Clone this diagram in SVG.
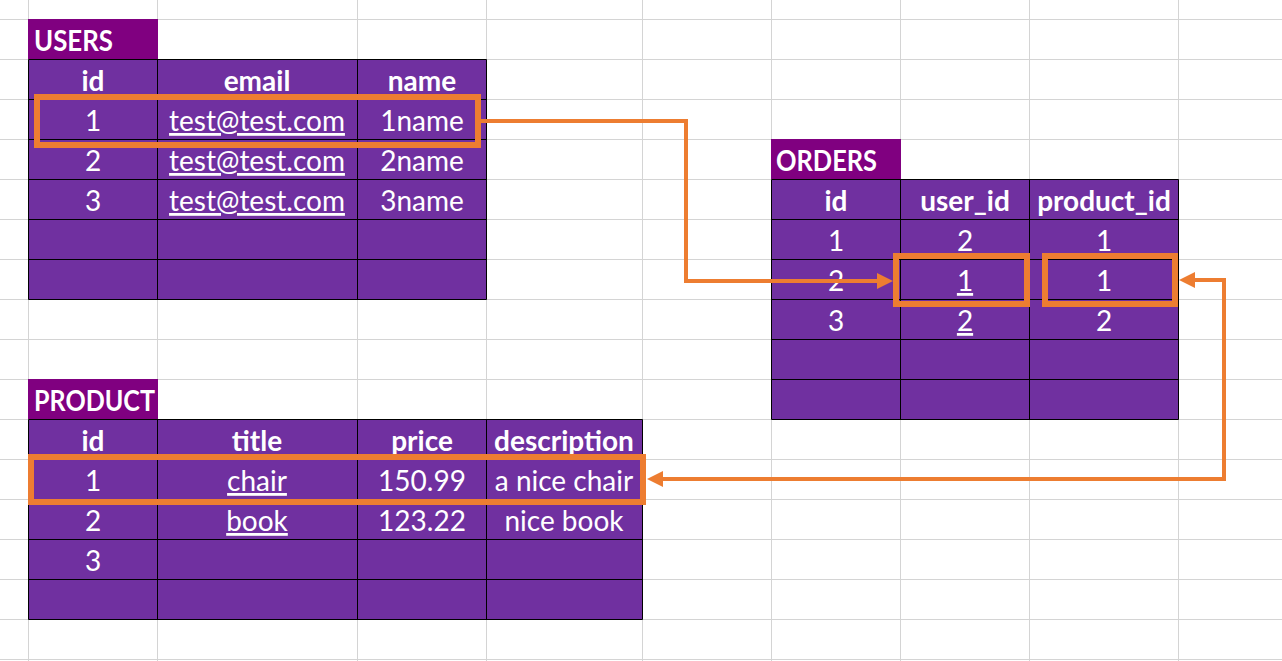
<svg xmlns="http://www.w3.org/2000/svg" width="1282" height="661" viewBox="0 0 1282 661">
<style>
.grid line{stroke:#d4d4d4;stroke-width:1}
.cell{fill:#7030a0}
.title{fill:#800080}
.bd{stroke:#000;stroke-width:1;fill:none}
text{font-family:Lato,"Liberation Sans",sans-serif;font-size:28px;fill:#fff}
.c{text-anchor:middle}
.b{font-weight:bold}
.u{text-decoration:underline}
.hl{fill:none;stroke:#ed7d31;stroke-width:6}
.conn{fill:none;stroke:#ed7d31;stroke-width:4}
</style>
<defs>
<marker id="arr" viewBox="0 0 16 16" refX="12" refY="8" markerWidth="16" markerHeight="16" markerUnits="userSpaceOnUse" orient="auto-start-reverse">
<path d="M0,0 L16,8 L0,16 z" fill="#ed7d31"/>
</marker>
</defs>
<rect width="1282" height="661" fill="#fff"/>
<g class="grid" id="grid">
<line x1="28.5" y1="0" x2="28.5" y2="661"/>
<line x1="157.5" y1="0" x2="157.5" y2="661"/>
<line x1="357.5" y1="0" x2="357.5" y2="661"/>
<line x1="486.5" y1="0" x2="486.5" y2="661"/>
<line x1="642.5" y1="0" x2="642.5" y2="661"/>
<line x1="771.5" y1="0" x2="771.5" y2="661"/>
<line x1="900.5" y1="0" x2="900.5" y2="661"/>
<line x1="1029.5" y1="0" x2="1029.5" y2="661"/>
<line x1="1178.5" y1="0" x2="1178.5" y2="661"/>
<line x1="0" y1="19.5" x2="1282" y2="19.5"/>
<line x1="0" y1="59.5" x2="1282" y2="59.5"/>
<line x1="0" y1="99.5" x2="1282" y2="99.5"/>
<line x1="0" y1="139.5" x2="1282" y2="139.5"/>
<line x1="0" y1="179.5" x2="1282" y2="179.5"/>
<line x1="0" y1="219.5" x2="1282" y2="219.5"/>
<line x1="0" y1="259.5" x2="1282" y2="259.5"/>
<line x1="0" y1="299.5" x2="1282" y2="299.5"/>
<line x1="0" y1="339.5" x2="1282" y2="339.5"/>
<line x1="0" y1="379.5" x2="1282" y2="379.5"/>
<line x1="0" y1="419.5" x2="1282" y2="419.5"/>
<line x1="0" y1="459.5" x2="1282" y2="459.5"/>
<line x1="0" y1="499.5" x2="1282" y2="499.5"/>
<line x1="0" y1="539.5" x2="1282" y2="539.5"/>
<line x1="0" y1="579.5" x2="1282" y2="579.5"/>
<line x1="0" y1="619.5" x2="1282" y2="619.5"/>
<line x1="0" y1="659.5" x2="1282" y2="659.5"/>
</g>

<g id="users">
<rect class="title" x="28" y="19" width="130" height="40"/>
<rect class="cell" x="28.5" y="59.5" width="458" height="240"/>
<path class="bd" d="M28.5,59.5 H486.5 V299.5 H28.5 Z M157.5,59.5 V299.5 M357.5,59.5 V299.5 M28.5,99.5 H486.5 M28.5,139.5 H486.5 M28.5,179.5 H486.5 M28.5,219.5 H486.5 M28.5,259.5 H486.5"/>
<text class="b" x="34" y="51" textLength="79" lengthAdjust="spacingAndGlyphs">USERS</text>
<text class="c b" x="93" y="91">id</text>
<text class="c b" x="257" y="91">email</text>
<text class="c b" x="422" y="91">name</text>
<text class="c" x="93" y="131">1</text>
<text class="c u" x="257" y="131">test@test.com</text>
<text class="c" x="422" y="131">1name</text>
<text class="c" x="93" y="171">2</text>
<text class="c u" x="257" y="171">test@test.com</text>
<text class="c" x="422" y="171">2name</text>
<text class="c" x="93" y="211">3</text>
<text class="c u" x="257" y="211">test@test.com</text>
<text class="c" x="422" y="211">3name</text>
</g>

<g id="orders">
<rect class="title" x="771" y="139" width="130" height="40"/>
<rect class="cell" x="771.5" y="179.5" width="407" height="240"/>
<path class="bd" d="M771.5,179.5 H1178.5 V419.5 H771.5 Z M900.5,179.5 V419.5 M1029.5,179.5 V419.5 M771.5,219.5 H1178.5 M771.5,259.5 H1178.5 M771.5,299.5 H1178.5 M771.5,339.5 H1178.5 M771.5,379.5 H1178.5"/>
<text class="b" x="776" y="171" textLength="101" lengthAdjust="spacingAndGlyphs">ORDERS</text>
<text class="c b" x="836" y="211">id</text>
<text class="c b" x="965" y="211">user_id</text>
<text class="c b" x="1104" y="211">product_id</text>
<text class="c" x="836" y="251">1</text>
<text class="c" x="965" y="251">2</text>
<text class="c" x="1104" y="251">1</text>
<text class="c" x="836" y="291">2</text>
<text class="c u" x="965" y="291">1</text>
<text class="c" x="1104" y="291">1</text>
<text class="c" x="836" y="331">3</text>
<text class="c u" x="965" y="331">2</text>
<text class="c" x="1104" y="331">2</text>
</g>

<g id="product">
<rect class="title" x="28" y="379" width="130" height="40"/>
<rect class="cell" x="28.5" y="419.5" width="614" height="200"/>
<path class="bd" d="M28.5,419.5 H642.5 V619.5 H28.5 Z M157.5,419.5 V619.5 M357.5,419.5 V619.5 M486.5,419.5 V619.5 M28.5,459.5 H642.5 M28.5,499.5 H642.5 M28.5,539.5 H642.5 M28.5,579.5 H642.5"/>
<text class="b" x="34" y="411" textLength="121" lengthAdjust="spacingAndGlyphs">PRODUCT</text>
<text class="c b" x="93" y="451">id</text>
<text class="c b" x="257" y="451">title</text>
<text class="c b" x="422" y="451">price</text>
<text class="c b" x="564" y="451">description</text>
<text class="c" x="93" y="491">1</text>
<text class="c u" x="257" y="491">chair</text>
<text class="c" x="422" y="491">150.99</text>
<text class="c" x="564" y="491">a nice chair</text>
<text class="c" x="93" y="531">2</text>
<text class="c u" x="257" y="531">book</text>
<text class="c" x="422" y="531">123.22</text>
<text class="c" x="564" y="531">nice book</text>
<text class="c" x="93" y="571">3</text>
</g>

<g id="highlights">
<rect class="hl" x="37" y="97" width="441" height="48"/>
<rect class="hl" x="896" y="256" width="131" height="48"/>
<rect class="hl" x="1045" y="256" width="130" height="48"/>
<rect class="hl" x="31" y="457" width="612" height="45"/>
</g>

<g id="connectors">
<path class="conn" d="M480,121 H686 V281 H889" marker-end="url(#arr)"/>
<path class="conn" d="M1183,280 H1224 V479 H651" marker-start="url(#arr)" marker-end="url(#arr)"/>
</g>
</svg>
